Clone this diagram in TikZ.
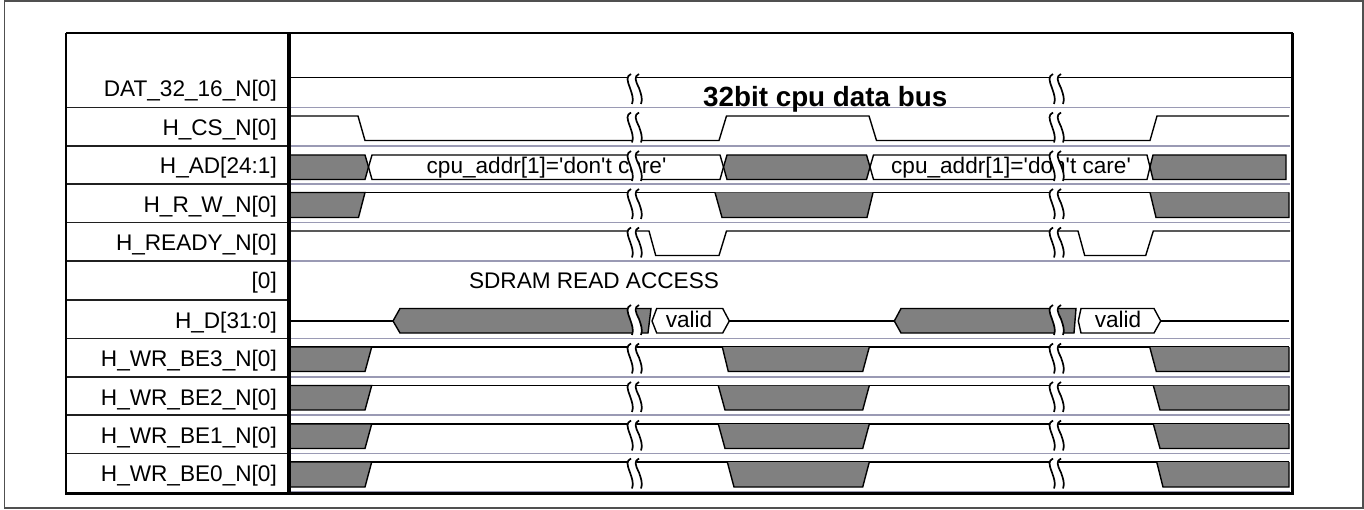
\documentclass[tikz,border=0pt]{standalone}
\usepackage{fontspec}
\setmainfont{Liberation Sans}
\tikzset{
  wave/.style={draw=black,line width=1.4pt,line join=miter},
  busfill/.style={draw=black,line width=1.4pt,fill=busgray,line join=miter},
  sepleft/.style={draw=sepdark,line width=1.7pt},
  sepright/.style={draw=seplav,line width=1.9pt},
  siglabel/.style={anchor=base east,font=\fontsize{22.6}{22.6}\selectfont,text=black,inner sep=0pt},
  wavetext/.style={anchor=base,font=\fontsize{22.6}{22.6}\selectfont,text=black,inner sep=0pt},
  frameline/.style={draw=black,line width=2.4pt},
}
\definecolor{busgray}{HTML}{808080}
\definecolor{sepdark}{HTML}{202020}
\definecolor{seplav}{HTML}{9A9AB4}
\definecolor{outer}{HTML}{505050}
% break mark: #1 = x of the pair, #2 = top y
\newcommand{\brkmark}[2]{%
  \fill[white] (#1+3,#2) .. controls (#1-2,#2+3) and (#1-1,#2+7) .. (#1+2,#2+15)
     .. controls (#1+4,#2+21) and (#1+6,#2+26) .. (#1+4,#2+32)
     -- (#1+13,#2+32) .. controls (#1+15,#2+26) and (#1+13,#2+21) .. (#1+11,#2+15)
     .. controls (#1+8,#2+7) and (#1+7,#2+3) .. (#1+11,#2) -- cycle;
  \foreach \dx in {0,9}{%
    \draw[black,line width=1.7pt] (#1+3+\dx-\dx/9,#2+1) .. controls (#1-2+\dx-\dx/9,#2+3.5) and (#1-1+\dx-\dx/9,#2+7) .. (#1+2+\dx,#2+15)
     .. controls (#1+4+\dx,#2+21) and (#1+6+\dx,#2+26) .. (#1+4+\dx,#2+31);
  }%
}
\newcommand{\brkpair}[1]{\brkmark{628}{#1}\brkmark{1050}{#1}}
\newcommand{\caretext}{cpu\_addr[1]=\textquotesingle don\textquotesingle t care\textquotesingle}
\begin{document}
\begin{tikzpicture}[x=1pt,y=-1pt]
\useasboundingbox (0,0) rectangle (1364,510);
\fill[white] (0,0) rectangle (1364,510);
\draw[draw=outer,line width=1.5pt] (4.7,1.2) rectangle (1363,508);

% separators
\foreach \y in {107.5,146,184,222.5,261,300,338.5,377,415,453.5}{
  \draw[sepleft] (66,\y) -- (287,\y);
}
\foreach \y in {107.5,146,184,222.5,261,338.5,377,415,453.5,491.5}{
  \draw[sepright] (287,\y) -- (1290,\y);
}

% labels
\node[siglabel] (l1) at (277,97) {DAT\_32\_16\_N[0]};
\node[siglabel] (l2) at (277,135.5) {H\_CS\_N[0]};
\node[siglabel] (l3) at (277,174) {H\_AD[24:1]};
\node[siglabel] (l4) at (277,212.5) {H\_R\_W\_N[0]};
\node[siglabel] (l5) at (277,250.5) {H\_READY\_N[0]};
\node[siglabel] (l6) at (277,289) {[0]};
\node[siglabel] (l7) at (277,328) {H\_D[31:0]};
\node[siglabel] (l8) at (277,366.5) {H\_WR\_BE3\_N[0]};
\node[siglabel] (l9) at (277,405) {H\_WR\_BE2\_N[0]};
\node[siglabel] (l10) at (277,443.5) {H\_WR\_BE1\_N[0]};
\node[siglabel] (l11) at (277,481.5) {H\_WR\_BE0\_N[0]};

% DAT_32_16_N
\draw[wave] (291,77.5) -- (1293,77.5);
% H_CS_N
\draw[wave] (291,116) -- (358,116) -- (365,140.5) -- (719,140.5) -- (726.5,116) -- (869,116) -- (876.5,140.5) -- (1150,140.5) -- (1157,116) -- (1289,116);
% H_AD
\draw[busfill] (291,155) -- (365,155) -- (368.5,167) -- (365,179.5) -- (291,179.5);
\draw[wave] (368.5,167) -- (372,155) -- (720,155) -- (723.5,167) -- (720,179.5) -- (372,179.5) -- cycle;
\draw[busfill] (723.5,167) -- (727,155) -- (866.5,155) -- (870,167) -- (866.5,179.5) -- (727,179.5) -- cycle;
\draw[wave] (870,167) -- (873.5,155) -- (1147,155) -- (1150,167) -- (1147,179.5) -- (873.5,179.5) -- cycle;
\draw[busfill,fill=busgray] (1150,167) -- (1153,155) -- (1286,155) -- (1286,179.5) -- (1153,179.5) -- cycle;
\node[wavetext] (t1) at (546.5,173.5) {\caretext};
\node[wavetext] (t2) at (1011,173.5) {\caretext};
% H_R_W_N
\draw[wave] (291,192.5) -- (1289,192.5);
\draw[busfill] (291,192.5) -- (365,192.5) -- (358.5,217.5) -- (291,217.5);
\draw[busfill] (715,192.5) -- (722,217.5) -- (867,217.5) -- (873,192.5);
\draw[busfill] (1150,192.5) -- (1156,217.5) -- (1289,217.5) -- (1289,192.5);
% H_READY_N
\draw[wave] (291,231) -- (649,231) -- (655.7,255.5) -- (719,255.5) -- (726.5,231) -- (1078,231) -- (1084.7,255.5) -- (1145.7,255.5) -- (1153.3,231) -- (1290,231);
% texts
\node[wavetext] (t3) at (594,289) {SDRAM READ ACCESS};
\node[anchor=base west,inner sep=0pt,font=\fontsize{27.8}{27.8}\selectfont\bfseries,text=black] (t4) at (703,106.5) {32bit cpu data bus};
% H_D
\draw[wave] (291,321) -- (393,321);
\draw[busfill] (393,321) -- (400,308.5) -- (651,308.5) -- (648,333) -- (400,333) -- cycle;
\draw[wave] (652,321) -- (656.7,308.5) -- (722.7,308.5) -- (729.3,321) -- (722.7,333) -- (656.7,333) -- cycle;
\draw[wave] (729.3,321) -- (894.3,321);
\draw[busfill] (894.3,321) -- (901,308.5) -- (1076,308.5) -- (1074,333) -- (901,333) -- cycle;
\draw[wave] (1078.3,321) -- (1081,308.5) -- (1154,308.5) -- (1160.7,321) -- (1154,333) -- (1081,333) -- cycle;
\draw[wave] (1160.7,321) -- (1289,321);
\node[wavetext] (t5) at (689,327.5) {valid};
\node[wavetext] (t6) at (1118,327.5) {valid};
% H_WR_BE3..0
\foreach \yh/\yl/\ta/\ba/\tb/\bb in {
  347/371.5/722.3/728.3/1149.7/1156.3,
  385.5/410/718.3/725/1153.3/1160,
  424/448.5/718.3/725/1153.3/1160,
  462/487/727.3/734/1156.7/1163}{
  \draw[wave] (291,\yh) -- (1289,\yh);
  \draw[busfill] (291,\yh) -- (371.7,\yh) -- (365,\yl) -- (291,\yl);
  \draw[busfill] (\ta,\yh) -- (\ba,\yl) -- (862.7,\yl) -- (869.3,\yh);
  \draw[busfill] (\tb,\yh) -- (\bb,\yl) -- (1289,\yl) -- (1289,\yh);
}
% break marks
\foreach \y in {73,111.5,150,188,226.5,304,342.5,381,419.5,457.5}{
  \brkpair{\y}
}
% frame
\draw[frameline] (66,33) -- (1292.5,33);
\draw[frameline,line width=3.2pt] (65,493.5) -- (1293.5,493.5);
\draw[frameline] (66.2,33) -- (66.2,494);
\draw[frameline,line width=4.2pt] (289,33) -- (289,494);
\draw[frameline] (1292.5,33) -- (1292.5,494);
\end{tikzpicture}
\end{document}
